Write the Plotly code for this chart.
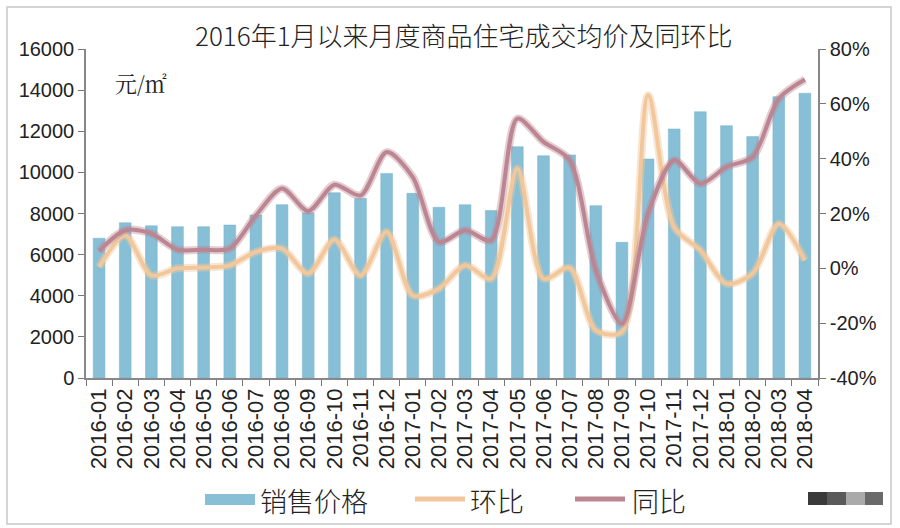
import plotly.graph_objects as go

months = ["2016-01","2016-02","2016-03","2016-04","2016-05","2016-06","2016-07","2016-08",
          "2016-09","2016-10","2016-11","2016-12","2017-01","2017-02","2017-03","2017-04",
          "2017-05","2017-06","2017-07","2017-08","2017-09","2017-10","2017-11","2017-12",
          "2018-01","2018-02","2018-03","2018-04"]

price = [6800, 7550, 7400, 7360, 7360, 7440, 7930, 8430, 8040, 9010, 8740, 9950,
         8980, 8300, 8430, 8140, 11250, 10810, 10850, 8380, 6600, 10650, 12110, 12950,
         12270, 11740, 13680, 13850]

mom = [0.5, 12, -2.6, 0, 0.3, 1.1, 6, 7.2, -1.9, 10.5, -2.6, 13.3,
       -9.9, -7.4, 1.1, -3.8, 36.4, -3.8, 0.2, -22.6, -23.2, 63.1, 15, 6.6,
       -5.6, -1.9, 16.3, 2.9]

yoy = [6.3, 13.9, 12.7, 6.8, 6.8, 7.2, 19.3, 29.1, 20.9, 30.5, 26.6, 42.4,
       33.3, 9.6, 13.9, 10.2, 54.6, 46.1, 39.5, -0.7, -20.2, 20, 39.4, 30.9,
       37, 40.6, 61.9, 68.9]

left_ticks = [0, 2000, 4000, 6000, 8000, 10000, 12000, 14000, 16000]
right_ticks = [-40, -20, 0, 20, 40, 60, 80]
right_tick_text = ["-40%", "-20%", "0%", "20%", "40%", "60%", "80%"]

title = "2016年1月以来月度商品住宅成交均价及同环比"
names = ["销售价格", "环比", "同比"]

bar_color = "#86BFD6"
mom_color = "#F2C79C"
yoy_color = "#BC8592"

fig = go.Figure()
fig.add_trace(go.Bar(x=months, y=price, name=names[0], marker=dict(color=bar_color,
                     line=dict(color="#79B3CC", width=0.5)), showlegend=False, yaxis="y"))
fig.add_trace(go.Scatter(x=months, y=mom, mode="lines", line=dict(color="rgba(242,199,156,0.45)", width=8, shape="spline", smoothing=0.8),
                         yaxis="y2", showlegend=False, hoverinfo="skip"))
fig.add_trace(go.Scatter(x=months, y=mom, name=names[1], mode="lines", line=dict(color=mom_color, width=4, shape="spline", smoothing=0.8),
                         yaxis="y2", showlegend=False))
fig.add_trace(go.Scatter(x=months, y=yoy, mode="lines", line=dict(color="rgba(188,133,146,0.4)", width=8, shape="spline", smoothing=0.8),
                         yaxis="y2", showlegend=False, hoverinfo="skip"))
fig.add_trace(go.Scatter(x=months, y=yoy, name=names[2], mode="lines", line=dict(color=yoy_color, width=4, shape="spline", smoothing=0.8),
                         yaxis="y2", showlegend=False))

L, R, T, B = 86, 82, 49, 150
W, H = 900, 528
pw, ph = W - L - R, H - T - B

def px(x):
    return (x - L) / pw

def py(y):
    return (H - B - y) / ph

font_main = "Liberation Sans, Arial, sans-serif"
font_cjk = "Noto Sans CJK SC, sans-serif"

shapes = [
    dict(type="rect", xref="paper", yref="paper", x0=px(7), x1=px(891), y0=py(524), y1=py(7),
         line=dict(color="#C8C8C8", width=1.5), fillcolor="rgba(0,0,0,0)", layer="below"),
    dict(type="rect", xref="paper", yref="paper", x0=px(205), x1=px(255), y0=py(505), y1=py(494),
         line=dict(width=0), fillcolor=bar_color),
    dict(type="line", xref="paper", yref="paper", x0=px(415), x1=px(465), y0=py(499), y1=py(499),
         line=dict(color=mom_color, width=5)),
    dict(type="line", xref="paper", yref="paper", x0=px(575), x1=px(625), y0=py(499), y1=py(499),
         line=dict(color=yoy_color, width=5)),
    dict(type="rect", xref="paper", yref="paper", x0=px(808), x1=px(827), y0=py(505), y1=py(492),
         line=dict(width=0), fillcolor="#3A3A3A"),
    dict(type="rect", xref="paper", yref="paper", x0=px(827), x1=px(846), y0=py(505), y1=py(492),
         line=dict(width=0), fillcolor="#5A5A5A"),
    dict(type="rect", xref="paper", yref="paper", x0=px(846), x1=px(865), y0=py(505), y1=py(492),
         line=dict(width=0), fillcolor="#AAAAAA"),
    dict(type="rect", xref="paper", yref="paper", x0=px(865), x1=px(883), y0=py(505), y1=py(492),
         line=dict(width=0), fillcolor="#6A6A6A"),
]

annotations = [
    dict(text=title, xref="paper", yref="paper", x=px(464), y=py(35), xanchor="center", yanchor="middle",
         showarrow=False, font=dict(family=font_cjk, size=26, color="#222222", weight=300)),
    dict(text="元/㎡", xref="paper", yref="paper", x=px(113), y=py(82), xanchor="left", yanchor="middle",
         showarrow=False, font=dict(family="Noto Serif CJK SC, Noto Sans CJK SC, serif", size=22, color="#222222")),
    dict(text=names[0], xref="paper", yref="paper", x=px(258), y=py(500), xanchor="left", yanchor="middle",
         showarrow=False, font=dict(family=font_cjk, size=27, color="#222222", weight=300)),
    dict(text=names[1], xref="paper", yref="paper", x=px(468), y=py(500), xanchor="left", yanchor="middle",
         showarrow=False, font=dict(family=font_cjk, size=27, color="#222222", weight=300)),
    dict(text=names[2], xref="paper", yref="paper", x=px(630), y=py(500), xanchor="left", yanchor="middle",
         showarrow=False, font=dict(family=font_cjk, size=27, color="#222222", weight=300)),
]

fig.update_layout(
    width=W, height=H,
    margin=dict(l=L, r=R, t=T, b=B, pad=0, autoexpand=False),
    paper_bgcolor="white", plot_bgcolor="white",
    bargap=0.55,
    showlegend=False,
    shapes=shapes,
    annotations=annotations,
    xaxis=dict(type="category", tickangle=-90, ticks="outside", tickson="boundaries", ticklen=6,
               tickcolor="#777777", showline=True, linecolor="#888888", linewidth=1.5,
               showgrid=False, tickfont=dict(family=font_main, size=22, color="#222222"),
               range=[-0.5, len(months) - 0.5], automargin=False),
    yaxis=dict(range=[0, 16000], tickvals=left_ticks, tickformat="d", ticks="outside", ticklen=6,
               tickcolor="#777777", showline=True, linecolor="#888888", linewidth=1.5, showgrid=False,
               zeroline=False, tickfont=dict(family=font_main, size=20, color="#222222"),
               ticksuffix=" ", automargin=False),
    yaxis2=dict(range=[-40, 80], tickvals=right_ticks, ticktext=right_tick_text, overlaying="y",
                side="right", ticks="outside", ticklen=6, tickcolor="#777777", showline=True,
                linecolor="#888888", linewidth=1.5, showgrid=False, zeroline=False,
                tickfont=dict(family=font_main, size=20, color="#222222"), automargin=False),
)

fig.write_html("out.html", config={"displayModeBar": False},
               post_script="document.body.style.margin='0';document.body.style.overflow='hidden';")
